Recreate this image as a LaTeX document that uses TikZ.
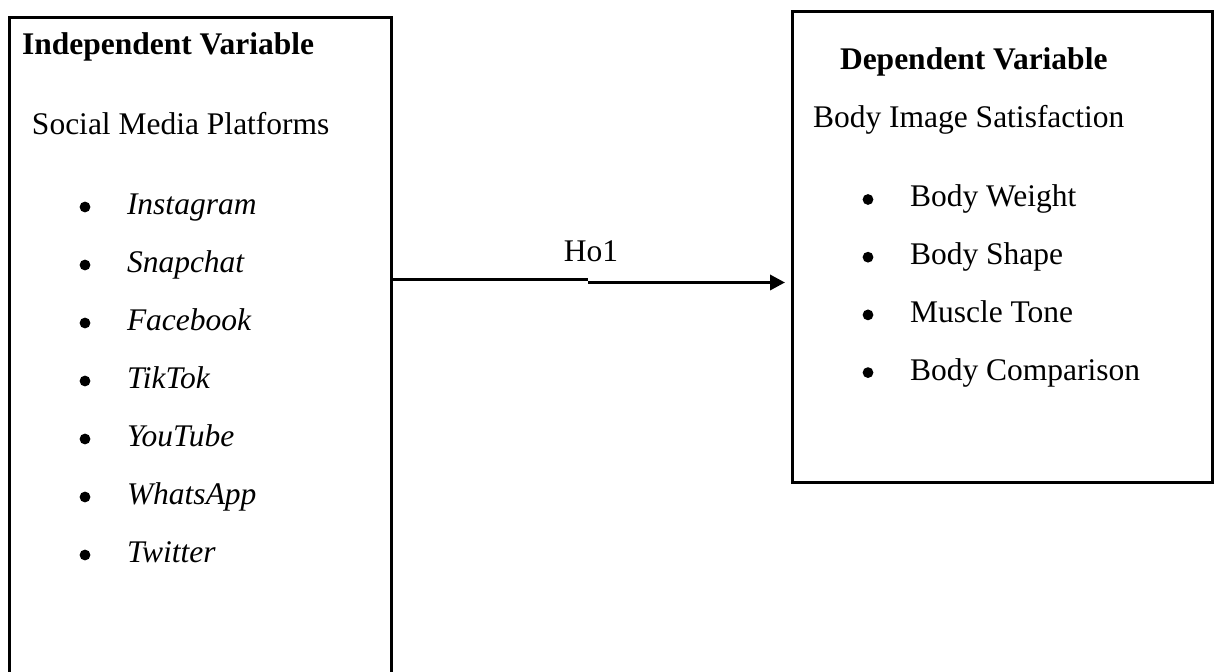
\documentclass[tikz,border=0pt]{standalone}
\usepackage{fontspec}
\setmainfont{Liberation Serif}
\usetikzlibrary{arrows.meta}
\begin{document}
\begin{tikzpicture}[x=0.5pt,y=-0.5pt,
  box/.style={draw,line width=1.5pt,rectangle,inner sep=0pt,outer sep=0pt,anchor=north west},
  txt/.style={inner sep=0pt,outer sep=0pt,anchor=base west,font=\fontsize{15.75}{19}\selectfont},
  head/.style={txt,font=\fontsize{15.75}{19}\selectfont\bfseries},
  item/.style={txt,font=\fontsize{15.75}{19}\selectfont\itshape},
  bul/.style={circle,fill=black,inner sep=0pt,minimum size=5.4pt}]
\useasboundingbox (0,0) rectangle (1216,672);
\clip (0,0) rectangle (1216,672);
% left box
\node[box,minimum width=191pt,minimum height=339pt] (lbox) at (9.5,17.5) {};
\node[head] (ivh) at (22,55) {Independent Variable};
\node[txt] (smp) at (32,135) {Social Media Platforms};
\foreach \t [count=\i from 0] in {Instagram,Snapchat,Facebook,TikTok,YouTube,WhatsApp,Twitter}{
  \node[bul] (lb\i) at (85,{207+58*\i}) {};
  \node[item] (li\i) at (127,{215+58*\i}) {\t};
}
% right box
\node[box,minimum width=210pt,minimum height=235.5pt] (rbox) at (792,12) {};
\node[head] (dvh) at (840,70) {Dependent Variable};
\node[txt] (bis) at (813,128) {Body Image Satisfaction};
\foreach \t [count=\i from 0] in {Body Weight,Body Shape,Muscle Tone,Body Comparison}{
  \node[bul] (rb\i) at (868,{199.5+57.7*\i}) {};
  \node[txt] (ri\i) at (910,{207+57.7*\i}) {\t};
}
% connector
\coordinate (s) at (391.5,279.3);
\coordinate (m1) at (588,279.3);
\coordinate (m2) at (588,282.5);
\coordinate (e) at (785,282.5);
\draw[line width=1.5pt] (s) -- (m1);
\draw[line width=1.7pt,-{Triangle[length=7.5pt,width=7.5pt]}] (m2) -- (e);
\node[inner sep=0pt,anchor=base,font=\fontsize{15.75}{19}\selectfont] (ho) at (591,262) {Ho1};
\end{tikzpicture}
\end{document}
